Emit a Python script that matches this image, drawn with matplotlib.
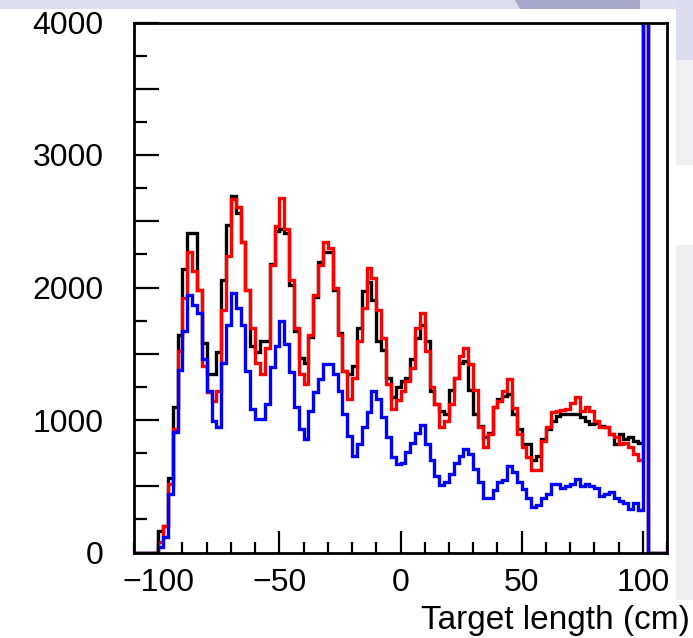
import numpy as np
import matplotlib
matplotlib.use('Agg')
import matplotlib.pyplot as plt
from matplotlib.patches import Rectangle, Polygon
from matplotlib.ticker import MultipleLocator

plt.rcParams['font.family'] = ['Liberation Sans', 'DejaVu Sans']

# ------------------- data (bin width 2 cm, left edges -100 ... 100) -------------------
bin_start = -100
bin_width = 2
x_range = (-110, 110)

# black histogram
counts_black = [
    160, 200, 560, 1100, 1640, 2140, 2415, 2415, 1980, 1580,
    1345, 1345, 1510, 2060, 2470, 2690, 2560, 2345, 1980, 1560,
    1510, 1600, 1600, 2180, 2430, 2445, 2410, 2020, 1670, 1470,
    1430, 1630, 1930, 2195, 2270, 2270, 1980, 1655, 1370, 1345,
    1405, 1695, 1970, 2045, 1905, 1595, 1530, 1320, 1170, 1250,
    1295, 1320, 1460, 1620, 1720, 1600, 1220, 1120, 1070, 1045,
    1230, 1320, 1430, 1445, 1230, 1045, 955, 870, 905, 1095,
    1160, 1180, 1195, 1045, 930, 820, 820, 695, 730, 860,
    930, 995, 1030, 1045, 1045, 1045, 1045, 1020, 995, 970,
    980, 955, 945, 895, 820, 895, 860, 870, 845, 830,
    9000,
]

# red histogram
counts_red = [
    80, 200, 520, 930, 1520, 1920, 2265, 2125, 1980, 1410,
    1210, 1145, 1220, 1830, 2240, 2670, 2610, 2345, 1980, 1695,
    1430, 1345, 1545, 2170, 2465, 2675, 2445, 2060, 1695, 1345,
    1270, 1645, 1945, 2170, 2345, 2295, 1995, 1645, 1370, 1160,
    1320, 1595, 1845, 2145, 2070, 1830, 1620, 1270, 1080, 1150,
    1220, 1295, 1395, 1695, 1810, 1520, 1250, 1120, 945, 995,
    1120, 1320, 1480, 1545, 1420, 1230, 945, 795, 895, 1095,
    1145, 1220, 1310, 1090, 895, 795, 720, 620, 620, 845,
    945, 1060, 1070, 1075, 1080, 1130, 1175, 1070, 1095, 1070,
    995, 945, 945, 895, 870, 820, 830, 795, 745, 695,
    9000,
]

# blue histogram
counts_blue = [
    40, 120, 445, 910, 1380, 1675, 1945, 1870, 1810, 1460,
    1220, 995, 945, 1430, 1720, 1960, 1845, 1720, 1370, 1080,
    1010, 1010, 1120, 1400, 1560, 1745, 1570, 1360, 1095, 930,
    860, 1070, 1210, 1310, 1420, 1420, 1345, 1220, 1045, 880,
    730, 820, 945, 1060, 1220, 1160, 1020, 870, 720, 670,
    675, 760, 830, 900, 965, 820, 695, 580, 510, 530,
    595, 675, 730, 780, 745, 630, 530, 410, 410, 470,
    530, 545, 655, 610, 530, 480, 410, 345, 360, 410,
    445, 515, 515, 485, 500, 515, 555, 500, 520, 505,
    485, 430, 445, 460, 410, 390, 370, 330, 370, 320,
    9000,
]

series = [
    ('black', counts_black, '#000000'),
    ('red', counts_red, '#ff0000'),
    ('blue', counts_blue, '#0000ff'),
]

y_ticks_label = [0, 1000, 2000, 3000, 4000]
x_label = 'Target length (cm)'

# ------------------- figure -------------------
W, H = 693, 638
fig = plt.figure(figsize=(W / 100, H / 100), dpi=100)
fig.patch.set_facecolor('white')

# slide background around the plot
fig.patches.append(Rectangle((0, 1 - 9 / H), 1, 9 / H, transform=fig.transFigure,
                             facecolor='#dedeee', edgecolor='none', zorder=-5))
fig.patches.append(Polygon([(515 / W, 1), (640 / W, 1), (640 / W, 1 - 9 / H), (520 / W, 1 - 9 / H)],
                           closed=True, transform=fig.transFigure,
                           facecolor='#a7a7c9', edgecolor='none', zorder=-4))
fig.patches.append(Rectangle((676 / W, 1 - 60 / H), 17 / W, 60 / H, transform=fig.transFigure,
                             facecolor='#dcdcee', edgecolor='none', zorder=-5))
fig.patches.append(Rectangle((676 / W, 1 - 165 / H), 17 / W, 105 / H, transform=fig.transFigure,
                             facecolor='#f0f0f3', edgecolor='none', zorder=-5))
fig.patches.append(Rectangle((676 / W, 1 - 600 / H), 17 / W, 355 / H, transform=fig.transFigure,
                             facecolor='#efeff2', edgecolor='none', zorder=-5))

ax = fig.add_axes([134 / W, 1 - 552.5 / H, (667 - 134) / W, (552.5 - 22.5) / H])

n_left = int((bin_start - x_range[0]) / bin_width)
for name, counts, color in series:
    vals = np.asarray(counts, dtype=float)
    n_right = int((x_range[1] - bin_start) / bin_width) - len(vals)
    vals = np.concatenate([np.zeros(n_left), vals, np.zeros(n_right)])
    edges = x_range[0] + bin_width * np.arange(len(vals) + 1)
    ax.stairs(vals, edges, color=color, linewidth=2.4, baseline=0)

ax.set_xlim(*x_range)
ax.set_ylim(0, 4000)

ax.xaxis.set_major_locator(MultipleLocator(50))
ax.xaxis.set_minor_locator(MultipleLocator(10))
ax.yaxis.set_major_locator(MultipleLocator(500))
ax.yaxis.set_minor_locator(MultipleLocator(250))
ax.set_yticklabels([str(int(v)) if v in y_ticks_label else '' for v in ax.get_yticks()])
ax.set_xticklabels([f'{int(v)}'.replace('-', '\u2212') for v in ax.get_xticks()])

ax.tick_params(axis='both', which='both', direction='in', top=False, right=False,
               width=1.6, colors='black')
ax.tick_params(axis='x', which='major', length=16, pad=11, labelsize=23)
ax.tick_params(axis='x', which='minor', length=8)
ax.tick_params(axis='y', which='major', length=18, pad=22, labelsize=23)
ax.tick_params(axis='y', which='minor', length=9)

for sp in ax.spines.values():
    sp.set_linewidth(2.0)

fig.text(690 / W, 1 - 621 / H, x_label, ha='right', va='center', fontsize=24)

fig.savefig('out.png', dpi=100)
